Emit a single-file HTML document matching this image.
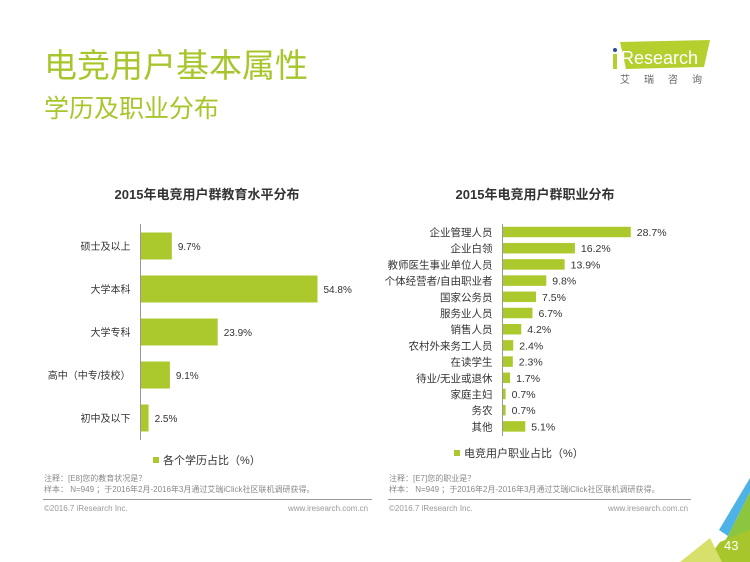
<!DOCTYPE html>
<html><head><meta charset="utf-8">
<style>
body{margin:0;width:750px;height:562px;overflow:hidden;background:#fff;font-family:"Liberation Sans","Noto Sans CJK SC",sans-serif;position:relative}
.abs{position:absolute;margin:0}
</style></head><body>
<div class="abs" style="left:44px;top:39px;font-size:33px;color:#a7c62b">电竞用户基本属性</div>
<div class="abs" style="left:44px;top:89px;font-size:25px;color:#a7c62b">学历及职业分布</div>
<div class="abs" style="left:612px;top:40px;width:100px;height:40px">
  <svg width="100" height="45"><polygon points="8,2 98,0 92,27 14,29" fill="#b5cf2e"/><circle cx="3" cy="10" r="2" fill="#2a4a9a"/><rect x="1" y="14" width="4" height="15" fill="#b5cf2e"/>
  <text x="9" y="24" font-size="18" fill="#fff" font-family="Liberation Sans">Research</text>
  <text x="8" y="43" font-size="10" fill="#666" font-family="Noto Sans CJK SC" letter-spacing="14">艾瑞咨询</text></svg>
</div>
<svg class="abs" style="left:0;top:0" width="750" height="562" id="chart"></svg>
<div class="abs" style="left:44px;top:473px;font-size:8px;color:#888;line-height:11px">注释：[E8]您的教育状况是？<br>样本： N=949 ；于2016年2月-2016年3月通过艾瑞iClick社区联机调研获得。</div>
<div class="abs" style="left:389px;top:473px;font-size:8px;color:#888;line-height:11px">注释：[E7]您的职业是？<br>样本： N=949 ；于2016年2月-2016年3月通过艾瑞iClick社区联机调研获得。</div>
<div class="abs" style="left:43px;top:499px;width:329px;height:1px;background:#999"></div>
<div class="abs" style="left:388px;top:499px;width:303px;height:1px;background:#999"></div>
<div class="abs" style="left:44px;top:504px;font-size:8px;color:#999">©2016.7 iResearch Inc.</div>
<div class="abs" style="left:288px;top:504px;font-size:8px;color:#999">www.iresearch.com.cn</div>
<div class="abs" style="left:389px;top:504px;font-size:8px;color:#999">©2016.7 iResearch Inc.</div>
<div class="abs" style="left:608px;top:504px;font-size:8px;color:#999">www.iresearch.com.cn</div>
<svg class="abs" style="left:680px;top:470px" width="70" height="92">
  <polygon points="70,8 70,22 48,66 39,60" fill="#4db3e6"/>
  <polygon points="70,22 70,92 30,92 48,66" fill="#8cc63f"/>
  <polygon points="40,72 70,60 70,92 25,92" fill="#a7c62b"/>
  <polygon points="0,92 30,68 42,92" fill="#d6e06a"/>
  <text x="44" y="80" font-size="13" fill="#fff" font-family="Liberation Sans">43</text>
</svg>
<script>
const eduCats=["硕士及以上","大学本科","大学专科","高中（中专/技校）","初中及以下"];
const eduVals=[9.7,54.8,23.9,9.1,2.5];
const jobCats=["企业管理人员","企业白领","教师医生事业单位人员","个体经营者/自由职业者","国家公务员","服务业人员","销售人员","农村外来务工人员","在读学生","待业/无业或退休","家庭主妇","务农","其他"];
const jobVals=[28.7,16.2,13.9,9.8,7.5,6.7,4.2,2.4,2.3,1.7,0.7,0.7,5.1];
const NS="http://www.w3.org/2000/svg",svg=document.getElementById('chart');
const G="#abc92c";
function mk(t,a,txt){const e=document.createElementNS(NS,t);for(const k in a)e.setAttribute(k,a[k]);if(txt!=null)e.textContent=txt;svg.appendChild(e);return e;}
function chart(cats,vals,x0,ppu,yTop,step,bh,fs,title,tx,leg,lx,ly,axT,axB,pre){
  const t=mk('text',{x:tx,y:199,'font-size':13,'font-weight':'bold','text-anchor':'middle',fill:'#333'},title);
  
  const xs=v=>x0+v*ppu, ys=i=>yTop+i*step;
  cats.forEach((c,i)=>{
    const cy=ys(i);
    const r=mk('rect',{x:x0,y:cy-bh/2,width:xs(vals[i])-x0,height:bh,fill:G});
    
    const l=mk('text',{x:x0-10,y:cy+fs*0.38,'font-size':fs,'text-anchor':'end',fill:'#333'},c);
    
    const v=mk('text',{x:xs(vals[i])+6,y:cy+fs*0.38,'font-size':fs,fill:'#333'},vals[i].toFixed(1)+'%');
    
  });
  const a=mk('line',{x1:x0,x2:x0,y1:axT,y2:axB,stroke:'#999','stroke-width':1});
  
  const s=mk('rect',{x:lx,y:ly-7,width:6,height:6,fill:G});
  
  const lt=mk('text',{x:lx+10,y:ly,'font-size':11,fill:'#333'},leg);
  
}
chart(eduCats,eduVals,140.5,3.23,246,43,27,10,"2015年电竞用户群教育水平分布",207,"各个学历占比（%）",153,464,224,440,'edu');
chart(jobCats,jobVals,502.5,4.47,232,16.2,10.5,10.5,"2015年电竞用户群职业分布",535,"电竞用户职业占比（%）",454,457,224,436,'job');
</script>
</body></html>
